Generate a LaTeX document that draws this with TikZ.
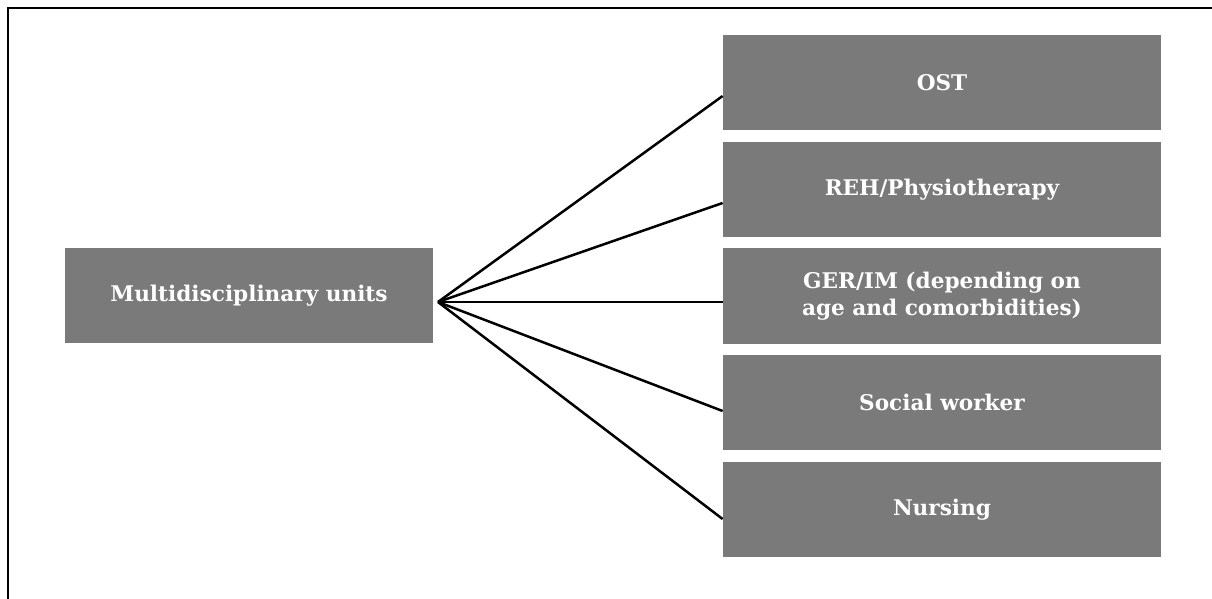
\documentclass[tikz,border=0pt]{standalone}
\usepackage{fontspec}
\setmainfont{DejaVu Serif}
\usetikzlibrary{calc}
\definecolor{boxgray}{HTML}{7A7A7A}
\begin{document}
\begin{tikzpicture}[x=0.5pt,y=-0.5pt,
  unitbox/.style={fill=boxgray,draw=none,text=white,align=center,
    font=\fontsize{10.8}{13.5}\selectfont\bfseries,inner sep=0pt},
  leftbox/.style={unitbox,minimum width=184pt,minimum height=47.5pt},
  rightbox/.style={unitbox,minimum width=219pt,minimum height=47.5pt},
  link/.style={line width=1.25pt,black},
  frameline/.style={line width=1.3pt,black}]
\useasboundingbox (0,0) rectangle (1212,599);
% partial frame on the top and left sides
\draw[frameline] (8,599) -- (8,8) -- (1212,8);
% hub box and its fan point
\node[leftbox] (multi) at (249,295.5) {Multidisciplinary units};
\coordinate (hub) at (438,302);
% specialty boxes
\node[rightbox] (ost) at (942,82.5) {OST};
\node[rightbox] (reh) at (942,189.5) {REH/Physiotherapy};
\node[rightbox] (ger) at (942,296) {GER/IM (depending on\\age and comorbidities)};
\node[rightbox] (soc) at (942,402.5) {Social worker};
\node[rightbox] (nur) at (942,509.5) {Nursing};
% fan of connectors
\draw[link] (hub) -- ($(ost.west)+(0,13.5)$);
\draw[link] (hub) -- ($(reh.west)+(0,13.5)$);
\draw[link] (hub) -- ($(ger.west)+(0,6)$);
\draw[link] (hub) -- ($(soc.west)+(0,8.5)$);
\draw[link] (hub) -- ($(nur.west)+(0,9.5)$);
\end{tikzpicture}
\end{document}
